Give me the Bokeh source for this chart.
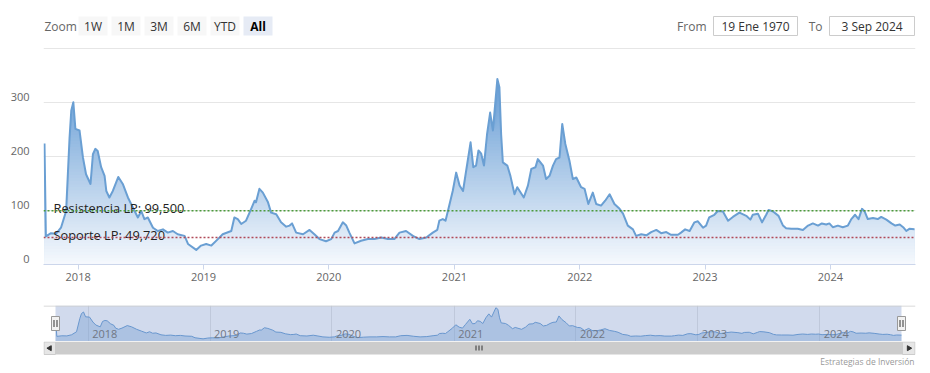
import numpy as np
import pandas as pd
from bokeh.plotting import figure
from bokeh.layouts import column
from bokeh.models import Range1d, FixedTicker, LinearAxis, DatetimeTickFormatter, Span
from bokeh.core.properties import value
from bokeh.embed import file_html
from bokeh.resources import INLINE

# ---------------- data ----------------
dates = [
    "2017-09-25", "2017-09-29", "2017-10-14", "2017-10-29", "2017-11-12", "2017-11-27", "2017-12-07",
    "2017-12-12", "2017-12-18", "2017-12-24", "2018-01-05", "2018-01-15", "2018-01-24", "2018-02-06",
    "2018-02-13", "2018-02-20", "2018-02-27", "2018-03-09", "2018-03-19", "2018-03-24", "2018-04-02",
    "2018-04-12", "2018-04-28", "2018-05-11", "2018-05-26", "2018-06-09", "2018-06-24", "2018-07-04",
    "2018-07-13", "2018-07-23", "2018-08-07", "2018-08-21", "2018-09-05", "2018-09-19", "2018-10-04",
    "2018-10-18", "2018-11-07", "2018-11-17", "2018-12-11", "2018-12-25", "2019-01-09", "2019-01-24",
    "2019-02-12", "2019-02-26", "2019-03-23", "2019-04-01", "2019-04-11", "2019-04-21", "2019-05-05",
    "2019-05-20", "2019-05-30", "2019-06-03", "2019-06-13", "2019-06-23", "2019-07-08", "2019-07-17",
    "2019-08-01", "2019-08-15", "2019-08-30", "2019-09-09", "2019-09-16", "2019-09-28", "2019-10-18",
    "2019-11-06", "2019-11-20", "2019-12-05", "2019-12-24", "2020-01-08", "2020-01-18", "2020-01-28",
    "2020-02-11", "2020-02-21", "2020-03-01", "2020-03-16", "2020-04-04", "2020-04-24", "2020-05-13",
    "2020-06-02", "2020-06-21", "2020-07-10", "2020-07-25", "2020-08-13", "2020-09-02", "2020-09-21",
    "2020-10-11", "2020-10-30", "2020-11-12", "2020-11-18", "2020-11-28", "2020-12-06", "2020-12-13",
    "2020-12-27", "2021-01-06", "2021-01-16", "2021-01-26", "2021-02-04", "2021-02-17", "2021-02-25",
    "2021-03-05", "2021-03-12", "2021-03-20", "2021-03-28", "2021-04-06", "2021-04-15", "2021-04-23",
    "2021-05-06", "2021-05-12", "2021-05-17", "2021-05-22", "2021-06-04", "2021-06-13", "2021-06-25",
    "2021-07-03", "2021-07-22", "2021-08-03", "2021-08-13", "2021-08-25", "2021-09-01", "2021-09-16",
    "2021-09-25", "2021-10-05", "2021-10-15", "2021-10-24", "2021-11-03", "2021-11-11", "2021-11-20",
    "2021-12-02", "2021-12-12", "2021-12-22", "2022-01-05", "2022-01-15", "2022-01-26", "2022-02-08",
    "2022-02-18", "2022-03-04", "2022-03-16", "2022-03-29", "2022-04-12", "2022-04-27", "2022-05-07",
    "2022-05-21", "2022-06-05", "2022-06-14", "2022-06-29", "2022-07-14", "2022-07-28", "2022-08-12",
    "2022-08-26", "2022-09-10", "2022-09-24", "2022-10-14", "2022-10-23", "2022-11-04", "2022-11-17",
    "2022-12-01", "2022-12-11", "2022-12-26", "2023-01-04", "2023-01-13", "2023-01-28", "2023-02-07",
    "2023-02-22", "2023-03-09", "2023-03-23", "2023-04-11", "2023-05-01", "2023-05-13", "2023-05-20",
    "2023-06-04", "2023-06-16", "2023-06-28", "2023-07-05", "2023-07-18", "2023-08-03", "2023-08-16",
    "2023-08-25", "2023-09-09", "2023-09-28", "2023-10-13", "2023-10-28", "2023-11-11", "2023-11-26",
    "2023-12-07", "2023-12-20", "2023-12-29", "2024-01-08", "2024-01-23", "2024-02-06", "2024-02-21",
    "2024-03-02", "2024-03-13", "2024-03-23", "2024-04-02", "2024-04-10", "2024-04-19", "2024-05-04",
    "2024-05-18", "2024-05-28", "2024-06-12", "2024-06-27", "2024-07-08", "2024-07-21", "2024-07-31",
    "2024-08-09", "2024-08-18", "2024-09-02",
]
values = [
    224, 52, 58, 57, 68, 99, 235,
    285, 300, 251, 248, 198, 167, 149,
    204, 214, 210, 180, 164, 136, 124,
    136, 162, 149, 124, 106, 87, 99,
    84, 87, 68, 62, 65, 59, 62,
    56, 53, 38, 27, 35, 38, 35,
    47, 56, 62, 87, 84, 75, 81,
    103, 118, 115, 140, 133, 115, 96,
    93, 78, 70, 72, 76, 59, 56,
    64, 56, 47, 43, 47, 59, 62,
    78, 72, 59, 39, 44, 47, 47,
    50, 47, 47, 59, 62, 53, 47,
    50, 59, 64, 81, 84, 81, 99,
    136, 170, 146, 136, 173, 226, 180,
    183, 211, 205, 183, 241, 281, 248,
    343, 328, 241, 189, 183, 164, 130,
    143, 124, 146, 177, 180, 195, 183,
    158, 164, 183, 195, 198, 260, 223,
    192, 158, 161, 143, 140, 112, 133,
    112, 109, 118, 130, 112, 103, 94,
    72, 65, 53, 56, 54, 60, 64,
    58, 60, 55, 55, 59, 65, 62,
    78, 80, 68, 72, 87, 92, 99,
    98, 81, 88, 96, 90, 83, 92,
    94, 78, 92, 101, 98, 90, 72,
    67, 66, 66, 64, 72, 76, 72,
    76, 74, 76, 69, 72, 69, 72,
    84, 92, 84, 103, 98, 84, 86,
    84, 88, 83, 76, 72, 74, 69,
    62, 66, 65,
]
years = [2018, 2019, 2020, 2021, 2022, 2023, 2024]
y_ticks = [0, 100, 200, 300]
y_grid = [0, 100, 200, 300, 400]
resistencia = 99.5
soporte = 49.72
res_label = "Resistencia LP: 99,500"
sop_label = "Soporte LP: 49,720"
zoom_label = "Zoom"
zoom_buttons = ["1W", "1M", "3M", "6M", "YTD", "All"]
selected_button = "All"
from_label = "From"
to_label = "To"
from_text = "19 Ene 1970"
to_text = "3 Sep 2024"
credit = "Estrategias de Inversión"

# ---------------- helpers ----------------
FONT = "Open Sans"
W = 930
BL, BR = 43, 15          # common frame borders (frame spans x 43..915)
FX0, FX1 = BL, W - BR
tms = pd.to_datetime(dates).asi8 / 1e6
v = np.array(values, dtype=float)
year_ms = list(pd.to_datetime([f"{y}-01-01" for y in years]).asi8 / 1e6)
LINE = "#6a9fd3"


def base(fig):
    fig.outline_line_color = None
    fig.background_fill_color = "white"
    fig.border_fill_color = "white"
    return fig


# ---------------- toolbar (range selector) ----------------
HA = 44
pa = figure(width=W, height=HA, x_range=Range1d(FX0, FX1), y_range=Range1d(HA, 0),
            output_backend="svg", toolbar_location=None,
            min_border_left=BL, min_border_right=BR, min_border_top=0, min_border_bottom=0)
base(pa)
pa.axis.visible = False
pa.grid.visible = False
TY = 25.5
pa.text(x=[44], y=[TY], text=[zoom_label], text_font=value(FONT), text_font_size="12px",
        text_color="#666666", text_align="left", text_baseline="middle")
bx = [78 + 33 * i for i in range(len(zoom_buttons))]
bfill = ["#e6ebf5" if b == selected_button else "#f7f7f7" for b in zoom_buttons]
pa.quad(left=bx, right=[x + 29 for x in bx], top=[16] * len(bx), bottom=[35] * len(bx),
        fill_color=bfill, line_color=None)
for x, b in zip(bx, zoom_buttons):
    sel = b == selected_button
    pa.text(x=[x + 14.5], y=[TY], text=[b], text_font=value(FONT), text_font_size="12px",
            text_color="#000000" if sel else "#333333", text_font_style="bold" if sel else "normal",
            text_align="center", text_baseline="middle")
pa.text(x=[706, 822], y=[TY, TY], text=[from_label, to_label], text_font=value(FONT),
        text_font_size="12px", text_color="#666666", text_align="right", text_baseline="middle")
pa.quad(left=[713, 829], right=[797, 914], top=[16, 16], bottom=[35, 35],
        fill_color="white", line_color="#cccccc", line_width=1)
pa.text(x=[755, 871.5], y=[TY, TY], text=[from_text, to_text], text_font=value(FONT),
        text_font_size="12px", text_color="#333333", text_align="center", text_baseline="middle")

# ---------------- main chart ----------------
m = (tms[-1] - tms[0]) / 870.0
p = figure(width=W, height=248, x_axis_type="datetime", output_backend="svg", toolbar_location=None,
           x_range=Range1d(tms[0] - 1 * m, tms[-1] + 1 * m), y_range=Range1d(0, 407),
           min_border_left=BL, min_border_right=BR, min_border_top=0, min_border_bottom=28)
base(p)
p.yaxis.visible = False
p.xgrid.visible = False
p.ygrid.ticker = FixedTicker(ticks=y_grid)
p.ygrid.grid_line_color = "#e6e6e6"

xa = p.xaxis[0]
xa.ticker = FixedTicker(ticks=year_ms)
xa.formatter = DatetimeTickFormatter(milliseconds="%Y", seconds="%Y", minsec="%Y", minutes="%Y",
                                     hourmin="%Y", hours="%Y", days="%Y", months="%Y", years="%Y")
xa.axis_line_color = "#ccd6eb"
xa.major_tick_line_color = "#ccd6eb"
xa.major_tick_out = 5
xa.major_tick_in = 0
xa.minor_tick_line_color = None
xa.major_label_standoff = 3
xa.major_label_text_font = FONT
xa.major_label_text_font_size = "11px"
xa.major_label_text_color = "#666666"

p.extra_y_ranges = {"lab": Range1d(-10, 397)}
ya = LinearAxis(y_range_name="lab", ticker=FixedTicker(ticks=y_ticks))
ya.axis_line_color = None
ya.major_tick_line_color = None
ya.minor_tick_line_color = None
ya.major_tick_out = 0
ya.major_tick_in = 0
ya.major_label_standoff = 14
ya.major_label_text_font = FONT
ya.major_label_text_font_size = "11px"
ya.major_label_text_color = "#666666"
p.add_layout(ya, "left")

# gradient area fill (vertical bands, darkest at series max)
N = 60
vmax = v.max()
top_c = np.array([100, 155, 212])
bot_c = np.array([246, 249, 253])
for k in range(N - 1, -1, -1):
    lvl = vmax * (k + 1) / N
    frac = (k + 0.5) / N
    c = (bot_c + (top_c - bot_c) * frac).round().astype(int)
    p.varea(x=tms, y1=np.zeros_like(v), y2=np.minimum(v, lvl),
            fill_color="#%02x%02x%02x" % tuple(c))
p.line(tms, v, line_color=LINE, line_width=2, line_join="round")

p.add_layout(Span(location=resistencia, dimension="width", line_color="#4c9a3c",
                  line_dash="2 2", line_width=1.5))
p.add_layout(Span(location=soporte, dimension="width", line_color="#b04a58",
                  line_dash="2 2", line_width=1.5))
p.text(x=[tms[0], tms[0]], y=[resistencia, soporte], text=[res_label, sop_label],
       x_offset=9, y_offset=-2.5, text_font=value(FONT), text_font_size="12.8px",
       text_color="#222222", text_align="left", text_baseline="alphabetic")

# ---------------- navigator ----------------
mpp = (tms[-1] - tms[0]) / 846.0
NAV_TOP = 366
pn = figure(width=W, height=49, x_axis_type="datetime", output_backend="svg", toolbar_location=None,
            x_range=Range1d(tms[0] - 12 * mpp, tms[-1] + 14 * mpp), y_range=Range1d(0, NAV_TOP),
            min_border_left=BL, min_border_right=BR, min_border_top=13, min_border_bottom=0)
base(pn)
pn.xaxis.visible = False
pn.yaxis.visible = False
pn.ygrid.visible = False
pn.xgrid.ticker = FixedTicker(ticks=year_ms)
pn.xgrid.grid_line_color = "#e6e6e6"
pn.varea(x=tms, y1=np.zeros_like(v), y2=v, fill_color="#6a9fd4", fill_alpha=0.35)
pn.line(tms, v, line_color=LINE, line_width=1)
pn.quad(left=[tms[0]], right=[tms[-1]], bottom=[0], top=[NAV_TOP],
        fill_color="#6685c2", fill_alpha=0.3, line_color=None)
pn.text(x=year_ms, y=[0] * len(year_ms), text=[str(y) for y in years], x_offset=4, y_offset=-8,
        text_font=value(FONT), text_font_size="11px", text_color="#707784",
        text_align="left", text_baseline="middle")
pn.add_layout(Span(location=NAV_TOP - 5, dimension="width", line_color="#cccccc", line_width=1))
hy = NAV_TOP / 2
upp = NAV_TOP / 36.0
pn.rect(x=[tms[0], tms[-1]], y=[hy, hy], width=8, height=14, width_units="screen",
        height_units="screen", fill_color="#f2f2f2", line_color="#999999", line_width=1)
hx = [tms[0] - 1.5 * mpp, tms[0] + 1.5 * mpp, tms[-1] - 1.5 * mpp, tms[-1] + 1.5 * mpp]
pn.segment(x0=hx, x1=hx, y0=[hy - 3.5 * upp] * 4, y1=[hy + 3.5 * upp] * 4,
           line_color="#333333", line_width=1)

# ---------------- scrollbar + credits ----------------
HS = 32
ps = figure(width=W, height=HS, x_range=Range1d(FX0, FX1), y_range=Range1d(HS, 0),
            output_backend="svg", toolbar_location=None,
            min_border_left=BL, min_border_right=BR, min_border_top=0, min_border_bottom=0)
base(ps)
ps.axis.visible = False
ps.grid.visible = False
ps.quad(left=[55], right=[902], top=[0], bottom=[13], fill_color="#cccccc", line_color=None)
ps.quad(left=[43.5, 902], right=[55, 914.5], top=[0.5, 0.5], bottom=[13, 13],
        fill_color="#e6e6e6", line_color="#cccccc", line_width=1)
ps.scatter(x=[49.3, 908.3], y=[6.7, 6.7], marker="triangle", size=5, angle=[np.pi / 2, -np.pi / 2],
           fill_color="#333333", line_color="#333333")
rx = [475.5, 478.5, 481.5]
ps.segment(x0=rx, x1=rx, y0=[4, 4, 4], y1=[9, 9, 9], line_color="#333333", line_width=1)
ps.text(x=[914], y=[19.5], text=[credit], text_font=value(FONT), text_font_size="8.5px",
        text_color="#999999", text_align="right", text_baseline="middle")

layout = column(pa, p, pn, ps, spacing=0)
open("out.html", "w").write(file_html(layout, INLINE))
